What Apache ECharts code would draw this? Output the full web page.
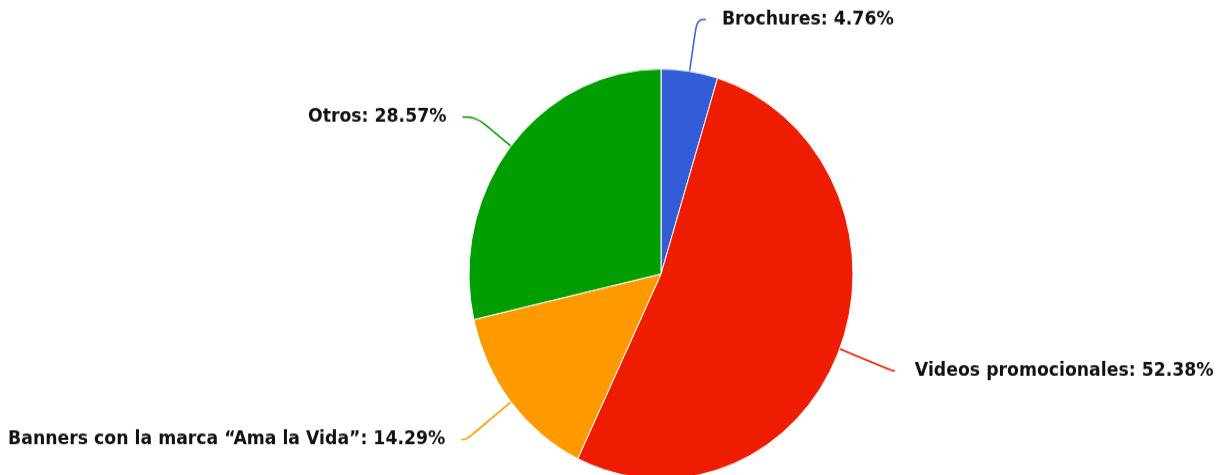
<!DOCTYPE html>
<html>
<head>
<meta charset="utf-8">
<title>Material promocional</title>
<script src="https://cdn.jsdelivr.net/npm/echarts@6/dist/echarts.min.js"></script>
<style>
  html, body { margin: 0; padding: 0; background: #ffffff; overflow: hidden; }
  #wrap { width: 1217px; height: 475px; overflow: hidden; }
  /* the drawing is stretched slightly in height, so the pie reads as a tall oval */
  #chart { width: 1217px; height: 445px; transform: scaleY(1.0677); transform-origin: 0 0; }
</style>
</head>
<body>
<div id="wrap"><div id="chart"></div></div>
<script>
// Share of each promotional material (percent)
const categories = ['Brochures', 'Videos promocionales', 'Banners con la marca \u201cAma la Vida\u201d', 'Otros'];
const shares = [4.76, 52.38, 14.29, 28.57];
const sliceColors = ['#335dd6', '#ee1c00', '#ff9900', '#019e01'];
// connector lengths: [radial part, horizontal part] and gap before the text
const connectorLengths = [[49, 9], [56, 3], [57, 5], [44, 14]];
const labelGaps = [16, 20, 16, 16];

const chart = echarts.init(document.getElementById('chart'), null, { renderer: 'canvas' });

const pieData = categories.map((name, i) => ({
  name: name,
  value: shares[i],
  itemStyle: { color: sliceColors[i] },
  label: { distanceToLabelLine: labelGaps[i] },
  labelLine: {
    length: connectorLengths[i][0],
    length2: connectorLengths[i][1],
    lineStyle: { color: sliceColors[i] }
  }
}));

chart.setOption({
  animation: false,
  backgroundColor: '#ffffff',
  series: [{
    type: 'pie',
    center: [661, 256.6],
    radius: 192,
    startAngle: 90,
    clockwise: true,
    avoidLabelOverlap: true,
    itemStyle: { borderColor: '#ffffff', borderWidth: 1 },
    label: {
      show: true,
      position: 'outside',
      alignTo: 'none',
      bleedMargin: 0,
      backgroundColor: 'rgba(255,255,255,0)',
      padding: [6, 0, 0, 0],
      color: '#111111',
      fontFamily: 'DejaVu Sans, Verdana, sans-serif',
      fontWeight: 'bold',
      fontSize: 17.3,
      formatter: p => p.name + ': ' + p.value.toFixed(2) + '%'
    },
    labelLine: {
      show: true,
      smooth: 0.45,
      lineStyle: { width: 1.5 }
    },
    emphasis: { disabled: true },
    data: pieData
  }]
});
</script>
</body>
</html>
